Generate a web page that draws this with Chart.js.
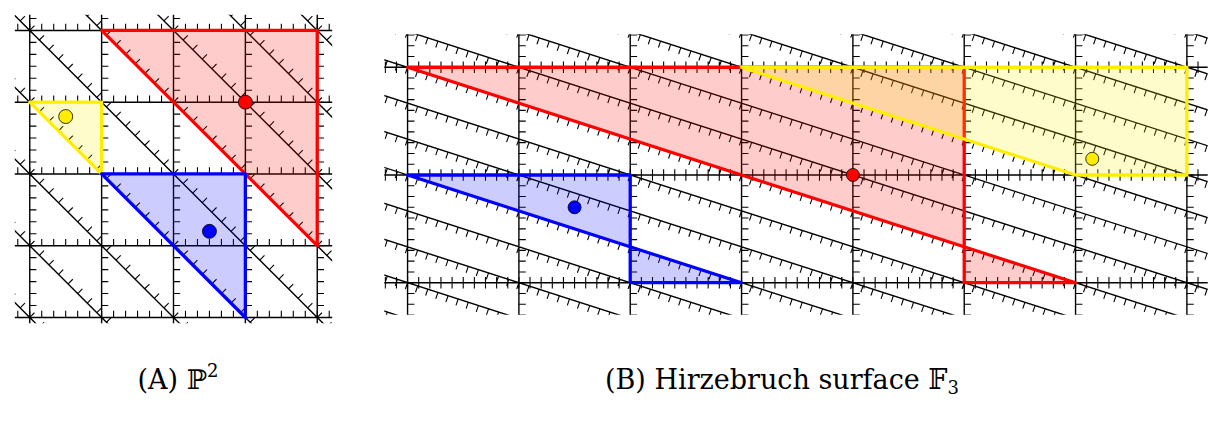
<!DOCTYPE html>
<html>
<head>
<meta charset="utf-8">
<script src="https://cdn.jsdelivr.net/npm/chart.js"></script>
<style>
  body { margin: 0; background: #fff; width: 1215px; height: 424px; position: relative; overflow: hidden; }
  .panel { position: absolute; }
  .cap { position: absolute; font-family: "DejaVu Serif", serif; font-size: 27px; color: #000;
         white-space: nowrap; transform: translateX(-50%); line-height: 1; }
  .cap sup { font-size: 18px; vertical-align: 12px; line-height: 0; }
  .cap sub { font-size: 18px; vertical-align: -5px; line-height: 0; }
</style>
</head>
<body>
<div class="panel" style="left:7px;top:7px"><canvas id="p2" width="333" height="324"></canvas></div>
<div class="panel" style="left:377px;top:27px"><canvas id="f3" width="838" height="295"></canvas></div>
<div class="cap" style="left:178px;top:366px">(A) ℙ<sup>2</sup></div>
<div class="cap" style="left:782px;top:366px">(B) Hirzebruch surface 𝔽<sub>3</sub></div>
<script>
// ---- (A) P^2 ----
const p2Verticals = [0, 1, 2, 3, 4];
const p2Horizontals = [0, 1, 2, 3, 4];
const p2Diagonals = [0, 1, 2, 3, 4, 5, 6, 7, 8];   // x + y = c
const p2Red = [[1, 4], [4, 4], [4, 1]];
const p2Yellow = [[0, 3], [1, 3], [1, 2]];
const p2Blue = [[1, 2], [3, 2], [3, 0]];
const p2DotX = [3, 0.5, 2.5];
const p2DotY = [3, 2.8, 1.2];

// ---- (B) Hirzebruch surface F_3 ----
const f3Verticals = [0, 1, 2, 3, 4, 5, 6, 7];
const f3Horizontals = [0, 1, 2];
const f3Slanted = [-1, 0, 1, 2, 3, 4, 5, 6, 7, 8, 9, 10, 11, 12, 13, 14];   // x + 3y = c
const f3Red = [[0, 2], [5, 2], [5, 0], [6, 0]];
const f3Blue = [[0, 1], [2, 1], [2, 0], [3, 0]];
const f3Yellow = [[3, 2], [7, 2], [7, 1], [6, 1]];
const f3DotX = [4, 1.5, 6.15];
const f3DotY = [1, 0.7, 1.15];

const dotColors = ['#ff0000', '#ffee00', '#0000ff'];
const f3DotColors = ['#ff0000', '#0000ff', '#ffee00'];

function seg(arr, a, b) {
  arr.push({x: a[0], y: a[1]}, {x: b[0], y: b[1]}, {x: null, y: null});
}

// grid lines with their hatch teeth, built in data units
function buildGrid(view, cfg) {
  const lines = [], teeth = [];
  const px = 1 / view.unit;
  cfg.verticals.forEach(k => {
    seg(lines, [k, view.yMin - 1], [k, view.yMax + 1]);
    for (let j = Math.floor(view.yMin / cfg.vStep); j * cfg.vStep <= view.yMax + 0.1; j++) {
      const y = j * cfg.vStep;
      seg(teeth, [k, y], [k + cfg.vLen * px, y]);
    }
  });
  cfg.horizontals.forEach(k => {
    seg(lines, [view.xMin - 1, k], [view.xMax + 1, k]);
    for (let j = Math.floor(view.xMin / cfg.hStep); j * cfg.hStep <= view.xMax + 0.1; j++) {
      const x = j * cfg.hStep;
      seg(teeth, [x, k - cfg.hBelow * px], [x, k + cfg.hAbove * px]);
    }
  });
  const a = cfg.slope;
  const nrm = Math.hypot(1, a);
  const dx = cfg.sDir * cfg.sLen * px / nrm, dy = cfg.sDir * cfg.sLen * px * a / nrm;
  cfg.slanted.forEach(c => {
    const yAt = x => (c - x) / a;
    seg(lines, [view.xMin - 2, yAt(view.xMin - 2)], [view.xMax + 2, yAt(view.xMax + 2)]);
    for (let j = Math.floor((view.xMin - 1) / cfg.sStep); j * cfg.sStep <= view.xMax + 0.5; j++) {
      const x = j * cfg.sStep, y = yAt(x);
      if (y < view.yMin - 0.3 || y > view.yMax + 0.3) continue;
      seg(teeth, [x, y], [x + dx, y + dy]);
    }
  });
  return {lines, teeth};
}

function closed(poly) {
  return poly.concat([poly[0]]).map(p => ({x: p[0], y: p[1]}));
}

function region(poly, fillCol, lineCol, order) {
  return {
    data: closed(poly), fill: 'shape', backgroundColor: fillCol, borderColor: lineCol,
    borderWidth: 3.3, borderJoinStyle: 'round', borderCapStyle: 'round',
    pointRadius: 0, order: order
  };
}

function dots(xs, ys, cols, r) {
  return {
    data: xs.map((x, i) => ({x: x, y: ys[i]})), showLine: false,
    pointRadius: r, pointBackgroundColor: cols, pointBorderColor: '#000',
    pointBorderWidth: 0.8, order: 0
  };
}

function makeChart(id, view, grid, regions, dotSet) {
  new Chart(document.getElementById(id), {
    type: 'line',
    data: {
      datasets: [
        {data: grid.lines, borderColor: '#000', borderWidth: 1.4, pointRadius: 0, spanGaps: false, fill: false, order: 20},
        {data: grid.teeth, borderColor: '#000', borderWidth: 1.1, pointRadius: 0, spanGaps: false, fill: false, order: 21},
        ...regions,
        dotSet
      ]
    },
    options: {
      responsive: false, animation: false, events: [],
      layout: {padding: 0},
      plugins: {legend: {display: false}, tooltip: {enabled: false}},
      scales: {
        x: {type: 'linear', display: false, min: view.xMin, max: view.xMax},
        y: {type: 'linear', display: false, min: view.yMin, max: view.yMax}
      }
    }
  });
}

const p2View = {xMin: -0.208, xMax: 4.208, yMin: -0.08, yMax: 4.218, unit: 75.4};
const p2Grid = buildGrid(p2View, {
  verticals: p2Verticals, horizontals: p2Horizontals, slanted: p2Diagonals, slope: 1,
  vStep: 1 / 6, vLen: 7, hStep: 1 / 6, hAbove: 7, hBelow: 0, sStep: 2 / 15, sLen: 7, sDir: 1
});
makeChart('p2', p2View, p2Grid, [
  region(p2Red, 'rgba(255,0,0,0.2)', '#ff0000', 5),
  region(p2Yellow, 'rgba(255,240,0,0.2)', '#ffee00', 4),
  region(p2Blue, 'rgba(0,0,255,0.2)', '#0000ff', 3)
], dots(p2DotX, p2DotY, dotColors, 7));

const f3View = {xMin: -0.209, xMax: 7.187, yMin: -0.297, yMax: 2.306, unit: 113.3};
const f3Grid = buildGrid(f3View, {
  verticals: f3Verticals, horizontals: f3Horizontals, slanted: f3Slanted, slope: 3,
  vStep: 0.1, vLen: 7, hStep: 0.1, hAbove: 6, hBelow: 6, sStep: 1 / 11, sLen: 7, sDir: -1
});
makeChart('f3', f3View, f3Grid, [
  region(f3Red, 'rgba(255,0,0,0.2)', '#ff0000', 5),
  region(f3Blue, 'rgba(0,0,255,0.2)', '#0000ff', 4),
  region(f3Yellow, 'rgba(255,240,0,0.2)', '#ffee00', 3)
], dots(f3DotX, f3DotY, f3DotColors, 6.5));
</script>
</body>
</html>
